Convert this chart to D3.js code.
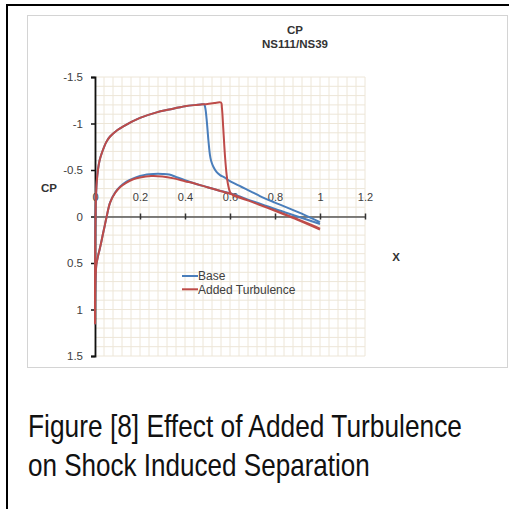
<!DOCTYPE html>
<html>
<head>
<meta charset="utf-8">
<script src="https://cdn.jsdelivr.net/npm/d3@7"></script>
<style>
  html, body { margin: 0; padding: 0; background: #fff; }
  svg { display: block; }
</style>
</head>
<body>
<svg id="fig" width="509" height="509"></svg>
<script>
// Pressure coefficient along the aerofoil, [x/c, Cp], traced trailing edge -> upper surface -> leading edge -> lower surface -> trailing edge
const baseUpper = [
  [1.0, 0.06], [0.9, -0.05], [0.8, -0.15], [0.733, -0.22], [0.7, -0.26], [0.65, -0.32],
  [0.6, -0.38], [0.575, -0.42], [0.556, -0.445], [0.54, -0.48], [0.526, -0.535],
  [0.516, -0.6], [0.511, -0.66], [0.504, -0.82], [0.496, -1.05], [0.49, -1.17],
  [0.485, -1.205], [0.47, -1.205], [0.45, -1.2], [0.4, -1.185], [0.33, -1.15],
  [0.274, -1.12], [0.2, -1.06], [0.126, -0.97], [0.1, -0.93], [0.067, -0.86],
  [0.05, -0.8], [0.03, -0.68], [0.02, -0.6], [0.013, -0.5], [0.008, -0.38],
  [0.005, -0.25], [0.003, -0.1], [0.0015, 0.15], [0.0005, 0.5], [0.0, 0.8], [0.0, 1.15]
];
const baseLower = [
  [0.0, 1.15], [0.0005, 0.9], [0.002, 0.7], [0.006, 0.52], [0.013, 0.43],
  [0.021, 0.35], [0.03, 0.25], [0.036, 0.18], [0.044, 0.09], [0.052, 0.0],
  [0.067, -0.15], [0.09, -0.26], [0.111, -0.32], [0.14, -0.375], [0.17, -0.41],
  [0.2, -0.435], [0.23, -0.452], [0.26, -0.458], [0.3, -0.458], [0.33, -0.452],
  [0.36, -0.425], [0.4, -0.39], [0.45, -0.35], [0.5, -0.315], [0.55, -0.28],
  [0.6, -0.25], [0.7, -0.165], [0.8, -0.08], [0.9, 0.0], [1.0, 0.08]
];
const turbUpper = [
  [1.0, 0.14], [0.9, 0.035], [0.8, -0.06], [0.7, -0.155], [0.61, -0.235],
  [0.6, -0.265], [0.59, -0.36], [0.585, -0.45], [0.578, -0.64], [0.57, -0.95],
  [0.564, -1.17], [0.56, -1.225], [0.53, -1.22], [0.5, -1.21], [0.47, -1.205],
  [0.45, -1.2], [0.4, -1.185], [0.33, -1.15], [0.274, -1.12], [0.2, -1.06],
  [0.126, -0.97], [0.1, -0.93], [0.067, -0.86], [0.05, -0.8], [0.03, -0.68],
  [0.02, -0.6], [0.013, -0.5], [0.008, -0.38], [0.005, -0.25], [0.003, -0.1],
  [0.0015, 0.15], [0.0005, 0.5], [0.0, 0.8], [0.0, 1.15]
];
const turbLower = [
  [0.0, 1.15], [0.0005, 0.9], [0.002, 0.7], [0.006, 0.52], [0.013, 0.43],
  [0.021, 0.35], [0.03, 0.25], [0.036, 0.18], [0.044, 0.09], [0.052, 0.0],
  [0.067, -0.15], [0.09, -0.255], [0.111, -0.315], [0.14, -0.365], [0.17, -0.4],
  [0.2, -0.42], [0.25, -0.435], [0.3, -0.43], [0.35, -0.41], [0.4, -0.38],
  [0.45, -0.35], [0.5, -0.315], [0.55, -0.28], [0.6, -0.245], [0.7, -0.155],
  [0.8, -0.065], [0.9, 0.03], [1.0, 0.13]
];

const seriesNames = ["Base", "Added Turbulence"];
const seriesColors = ["#4a7ebb", "#be4b48"];
const xTicks = [0, 0.2, 0.4, 0.6, 0.8, 1, 1.2];
const xTickLabels = ["0", "0.2", "0.4", "0.6", "0.8", "1", "1.2"];
const yTicks = [-1.5, -1, -0.5, 0, 0.5, 1, 1.5];
const yTickLabels = ["-1.5", "-1", "-0.5", "0", "0.5", "1", "1.5"];
const chartTitle = ["CP", "NS111/NS39"];
const caption = ["Figure [8] Effect of Added Turbulence", "on Shock Induced Separation"];

const svg = d3.select("#fig");

// outer figure frame
svg.append("rect").attr("x", 7).attr("y", 5).attr("width", 520).attr("height", 520)
  .attr("fill", "#fff").attr("stroke", "#000").attr("stroke-width", 2);

// chart area
svg.append("rect").attr("x", 27.5).attr("y", 15.5).attr("width", 480).attr("height", 352)
  .attr("fill", "#fff").attr("stroke", "#d4d4d4").attr("stroke-width", 1);

const x = d3.scaleLinear().domain([0, 1.2]).range([95, 365]);
const y = d3.scaleLinear().domain([-1.5, 1.5]).range([77, 356]);

// minor grid
const grid = svg.append("g").attr("stroke", "#ede6d8").attr("stroke-width", 1);
d3.range(0, 1.2001, 0.04).forEach(v => {
  grid.append("line").attr("x1", x(v)).attr("x2", x(v)).attr("y1", y(-1.5)).attr("y2", y(1.5));
});
d3.range(-1.5, 1.5001, 0.1).forEach(v => {
  grid.append("line").attr("x1", x(0)).attr("x2", x(1.2)).attr("y1", y(v)).attr("y2", y(v));
});

const font = "'Liberation Sans', Arial, sans-serif";

// y axis
const yAxis = svg.append("g").attr("transform", `translate(${x(0)},0)`)
  .call(d3.axisLeft(y).tickValues(yTicks).tickFormat((d, i) => yTickLabels[i]).tickSize(4).tickPadding(8));
yAxis.select(".domain").attr("stroke", "#111").attr("stroke-width", 1.8);
yAxis.selectAll(".tick line").attr("stroke", "#111").attr("stroke-width", 1.5);
yAxis.selectAll(".tick text").attr("font-family", font).attr("font-size", 11.5).attr("fill", "#404040");

// x axis along Cp = 0, labels sit above the line
const xAxis = svg.append("g").attr("transform", `translate(0,${y(0)})`)
  .call(d3.axisBottom(x).tickValues(xTicks).tickFormat((d, i) => xTickLabels[i]).tickSizeOuter(0));
xAxis.select(".domain").attr("stroke", "#555").attr("stroke-width", 1.5);
xAxis.selectAll(".tick line").attr("y1", -3).attr("y2", 3).attr("stroke", "#333").attr("stroke-width", 1.5);
xAxis.selectAll(".tick text").attr("y", -15.5).attr("dy", 0)
  .attr("font-family", font).attr("font-size", 11).attr("fill", "#404040");

// Cp curves
const path = d3.line().x(d => x(d[0])).y(d => y(d[1])).curve(d3.curveCatmullRom.alpha(0.5));
const series = [baseUpper.concat(baseLower.slice(1)), turbUpper.concat(turbLower.slice(1))];
series.forEach((pts, i) => {
  svg.append("path").datum(pts).attr("d", path)
    .attr("fill", "none").attr("stroke", seriesColors[i]).attr("stroke-width", 2)
    .attr("stroke-linejoin", "round");
});

// titles
const title = svg.append("text").attr("text-anchor", "middle").attr("font-family", font)
  .attr("font-size", 11.5).attr("font-weight", "bold").attr("fill", "#333");
title.append("tspan").attr("x", 295).attr("y", 33.5).text(chartTitle[0]);
title.append("tspan").attr("x", 295).attr("y", 47.5).text(chartTitle[1]);

svg.append("text").attr("x", 49).attr("y", 192).attr("text-anchor", "middle")
  .attr("font-family", font).attr("font-size", 11.5).attr("font-weight", "bold").attr("fill", "#333").text("CP");
svg.append("text").attr("x", 396).attr("y", 260.5).attr("text-anchor", "middle")
  .attr("font-family", font).attr("font-size", 11.5).attr("font-weight", "bold").attr("fill", "#333").text("X");

// legend
seriesNames.forEach((name, i) => {
  const ly = 276 + i * 13.3;
  svg.append("line").attr("x1", 182).attr("x2", 198).attr("y1", ly).attr("y2", ly)
    .attr("stroke", seriesColors[i]).attr("stroke-width", 2);
  svg.append("text").attr("x", 198).attr("y", ly + 4.2).attr("font-family", font)
    .attr("font-size", 12).attr("fill", "#404040").text(name);
});

// caption in a condensed face: a horizontally squeezed sans
const capWidths = [434, 342];
caption.forEach((t, i) => {
  const g = svg.append("g");
  const txt = g.append("text").attr("x", 0).attr("y", 0)
    .attr("font-family", "'Liberation Sans', Arial, sans-serif")
    .attr("font-size", 31).attr("fill", "#111")
    .text(t);
  const natural = txt.node().getComputedTextLength();
  g.attr("transform", `translate(28,${437 + i * 38.5}) scale(${capWidths[i] / natural},1)`);
});
</script>
</body>
</html>
